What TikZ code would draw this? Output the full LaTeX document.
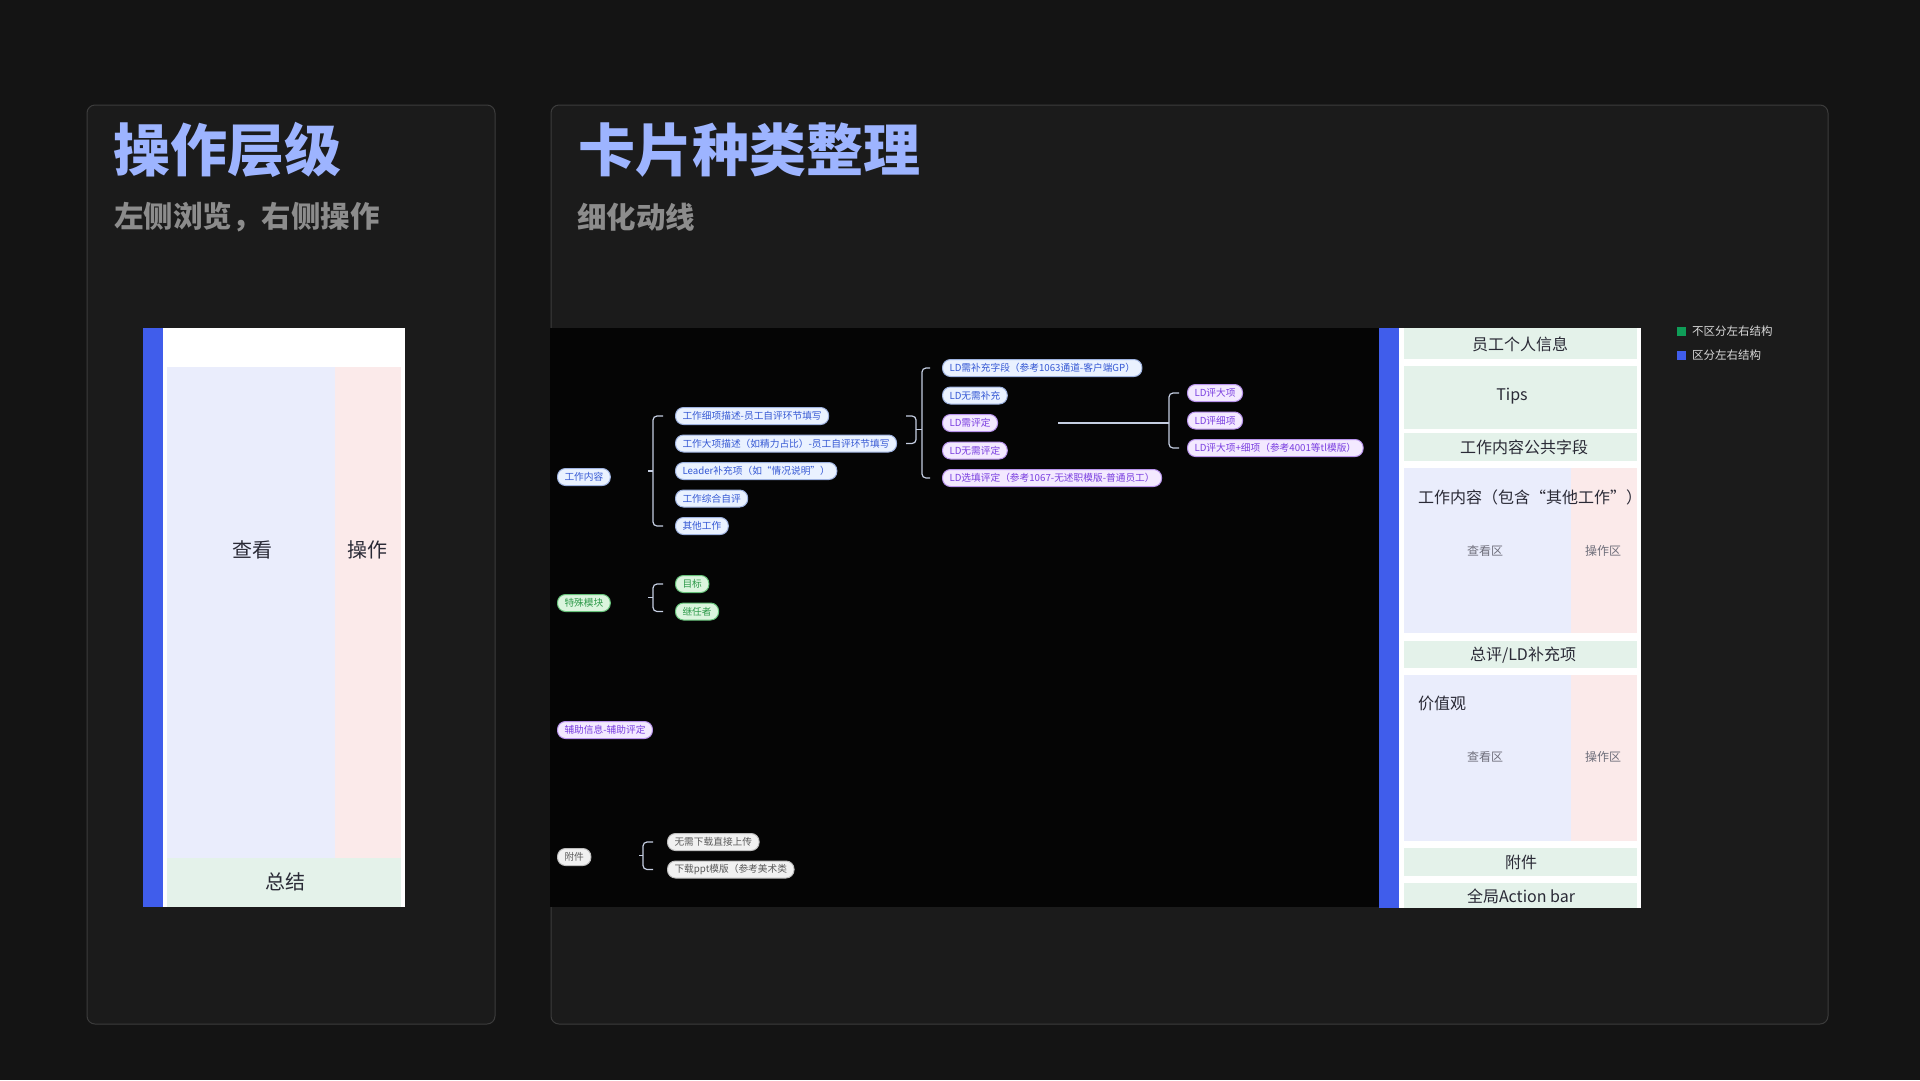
\documentclass[tikz,border=0pt]{standalone}
\usepackage{fontspec}
\setmainfont{Noto Sans CJK SC}
\usetikzlibrary{positioning,calc}
\definecolor{pagebg}{HTML}{141414}
\definecolor{panelbg}{HTML}{1B1B1B}
\definecolor{panelline}{HTML}{3C3C3C}
\definecolor{titleblue}{HTML}{9DB4FF}
\definecolor{subgray}{HTML}{8C8C8C}
\definecolor{barblue}{HTML}{405DEB}
\definecolor{viewfill}{HTML}{EAEDFC}
\definecolor{opfill}{HTML}{FBEAEA}
\definecolor{flatfill}{HTML}{E4F2EA}
\definecolor{inktext}{HTML}{2A2A36}
\definecolor{zonetext}{HTML}{6E6E7A}
\definecolor{legendgreen}{HTML}{0F9D58}
\definecolor{legendtext}{HTML}{DADADA}
\definecolor{canvasbg}{HTML}{050505}
\definecolor{bracecol}{HTML}{C5CEE2}
\definecolor{bluefill}{HTML}{EAF2FF}
\definecolor{blueline}{HTML}{9FB3E0}
\definecolor{bluetext}{HTML}{3558D4}
\definecolor{purpfill}{HTML}{F3E9FF}
\definecolor{purpline}{HTML}{B893EC}
\definecolor{purptext}{HTML}{7A3EE0}
\definecolor{grnfill}{HTML}{DBF5DE}
\definecolor{grnline}{HTML}{66C27A}
\definecolor{grntext}{HTML}{2E9A4A}
\definecolor{gryfill}{HTML}{F1F1F1}
\definecolor{gryline}{HTML}{BDBDBD}
\definecolor{grytext}{HTML}{5A5A5A}

\begin{document}
\begin{tikzpicture}[x=1pt,y=-1pt,
  node distance=9.5pt,
  topic/.style={draw,line width=1pt,rounded corners=8pt,minimum height=17pt,inner xsep=7pt,inner ysep=0pt,font=\fontsize{9.7}{10}\selectfont,anchor=west},
  bluetopic/.style={topic,fill=bluefill,draw=blueline,text=bluetext},
  purptopic/.style={topic,fill=purpfill,draw=purpline,text=purptext},
  grntopic/.style={topic,fill=grnfill,draw=grnline,text=grntext},
  grytopic/.style={topic,fill=gryfill,draw=gryline,text=grytext},
  brace/.style={draw=bracecol,line width=1.2pt,rounded corners=4pt},
  panel/.style={fill=panelbg,draw=panelline,line width=1pt,rounded corners=8pt},
  title/.style={anchor=west,inner sep=0pt,text=titleblue,font=\fontsize{57}{60}\selectfont\bfseries},
  subtitle/.style={anchor=west,inner sep=0pt,text=subgray,font=\fontsize{29.5}{32}\selectfont\bfseries},
  big/.style={inner sep=0pt,text=inktext,font=\fontsize{20}{22}\selectfont},
  bar/.style={inner sep=0pt,text=inktext,font=\fontsize{16}{18}\selectfont},
  zone/.style={inner sep=0pt,text=zonetext,font=\fontsize{12}{14}\selectfont},
  legend/.style={anchor=west,inner sep=0pt,text=legendtext,font=\fontsize{11.5}{13}\selectfont}]
\useasboundingbox (0,0) rectangle (1920,1080);
\fill[pagebg] (0,0) rectangle (1920,1080);
\path[panel] (87,105) rectangle (495,1024);
\path[panel] (551,105) rectangle (1828,1024);
\node[title] (lefttitle) at (113,150) {操作层级};
\node[subtitle] (leftsub) at (114,217) {左侧浏览，右侧操作};
\node[title] (righttitle) at (578,150) {卡片种类整理};
\node[subtitle] (rightsub) at (577,217) {细化动线};

\fill[barblue] (143,328) rectangle (163,907);
\fill[white] (163,328) rectangle (405,907);
\fill[viewfill] (167,367) rectangle (335,858);
\fill[opfill] (335,367) rectangle (401,858);
\fill[flatfill] (167,858) rectangle (401,907);
\node[big] (look) at (252,550) {查看};
\node[big] (act) at (367,550) {操作};
\node[big] (sum) at (285,882) {总结};

\fill[canvasbg] (550,328) rectangle (1379,907);
\fill[barblue] (1379,328) rectangle (1399,908);
\fill[white] (1399,328) rectangle (1641,908);
\fill[flatfill] (1404,328) rectangle (1637,359);
\fill[flatfill] (1404,366) rectangle (1637,429);
\fill[flatfill] (1404,433) rectangle (1637,461);
\fill[viewfill] (1404,468) rectangle (1571,633);
\fill[opfill] (1571,468) rectangle (1637,633);
\fill[flatfill] (1404,641) rectangle (1637,668);
\fill[viewfill] (1404,675) rectangle (1571,841);
\fill[opfill] (1571,675) rectangle (1637,841);
\fill[flatfill] (1404,848) rectangle (1637,876);
\fill[flatfill] (1404,883) rectangle (1637,908);
\node[bar] (info) at (1520,344) {员工个人信息};
\node[bar] (tips) at (1512,396) {Tips};
\node[bar] (common) at (1524,447) {工作内容公共字段};
\node[bar,anchor=west] (workhead) at (1418,497) {工作内容（包含“其他工作”）};
\node[zone] (workview) at (1485,551) {查看区};
\node[zone] (workop) at (1603,551) {操作区};
\node[bar] (review) at (1523,655) {总评/LD补充项};
\node[bar,anchor=west] (valhead) at (1418,703) {价值观};
\node[zone] (valview) at (1485,757) {查看区};
\node[zone] (valop) at (1603,757) {操作区};
\node[bar] (attach) at (1521,862) {附件};
\node[bar] (actionbar) at (1521,896) {全局Action bar};

\fill[legendgreen] (1677,327) rectangle (1686,336);
\node[legend] (flatkey) at (1692,331) {不区分左右结构};
\fill[barblue] (1677,351) rectangle (1686,360);
\node[legend] (splitkey) at (1692,355) {区分左右结构};

\node[bluetopic] (work) at (557,477) {工作内容};
\node[bluetopic] (c1) at (675,416) {工作细项描述-员工自评环节填写};
\node[bluetopic,below=of c1.south west,anchor=north west] (c2) {工作大项描述（如精力占比）-员工自评环节填写};
\node[bluetopic,below=of c2.south west,anchor=north west] (c3) {Leader补充项（如“情况说明”）};
\node[bluetopic,below=of c3.south west,anchor=north west] (c4) {工作综合自评};
\node[bluetopic,below=of c4.south west,anchor=north west] (c5) {其他工作};
\node[bluetopic] (r1) at (942,368) {LD需补充字段（参考1063通道-客户端GP）};
\node[bluetopic,below=of r1.south west,anchor=north west] (r2) {LD无需补充};
\node[purptopic,below=of r2.south west,anchor=north west] (r3) {LD需评定};
\node[purptopic,below=of r3.south west,anchor=north west] (r4) {LD无需评定};
\node[purptopic,below=of r4.south west,anchor=north west] (r5) {LD选填评定（参考1067-无述职模版-普通员工）};
\node[purptopic] (s1) at (1187,393) {LD评大项};
\node[purptopic,below=of s1.south west,anchor=north west] (s2) {LD评细项};
\node[purptopic,below=of s2.south west,anchor=north west] (s3) {LD评大项+细项（参考4001等tl模版）};
\node[grntopic] (special) at (557,603) {特殊模块};
\node[grntopic] (g1) at (675,584) {目标};
\node[grntopic,below=of g1.south west,anchor=north west] (g2) {继任者};
\node[purptopic] (aux) at (557,730) {辅助信息-辅助评定};
\node[grytopic] (files) at (557,857) {附件};
\node[grytopic] (f1) at (667,842) {无需下载直接上传};
\node[grytopic,below=of f1.south west,anchor=north west] (f2) {下载ppt模版（参考美术类};

\draw[brace] ([xshift=-12pt]c1.west) -| ([xshift=-22pt]c5.west) -- ([xshift=-12pt]c5.west);
\draw[brace] ([xshift=-27pt]c3.west) -- ([xshift=-22pt]c3.west);
\coordinate (cb) at ([xshift=9pt]c2.east);
\coordinate (cm) at ($(cb |- c1.east)!0.5!(cb)$);
\coordinate (rb) at ([xshift=-20pt]r1.west);
\draw[brace] (cb |- c1.east) -| ([xshift=10pt]cb) -- (cb);
\draw[brace] ([xshift=10pt]cm) -- (cm -| rb);
\draw[brace] ([xshift=-12pt]r1.west) -| ([xshift=-20pt]r5.west) -- ([xshift=-12pt]r5.west);
\coordinate (hub) at (1058,423);
\coordinate (sb) at ([xshift=-18pt]s1.west);
\draw[brace] (hub) -- (hub -| sb);
\draw[brace] ([xshift=-8pt]s1.west) -| ([xshift=-18pt]s3.west) -- ([xshift=-8pt]s3.west);
\draw[brace] ([xshift=-12pt]g1.west) -| ([xshift=-22pt]g2.west) -- ([xshift=-12pt]g2.west);
\draw[brace] ($(g1.west)!0.5!(g2.west)+(-27,0)$) -- ($(g1.west)!0.5!(g2.west)+(-22,0)$);
\draw[brace] ([xshift=-14pt]f1.west) -| ([xshift=-24pt]f2.west) -- ([xshift=-14pt]f2.west);
\draw[brace] ($(f1.west)!0.5!(f2.west)+(-28,0)$) -- ($(f1.west)!0.5!(f2.west)+(-24,0)$);
\end{tikzpicture}
\end{document}
